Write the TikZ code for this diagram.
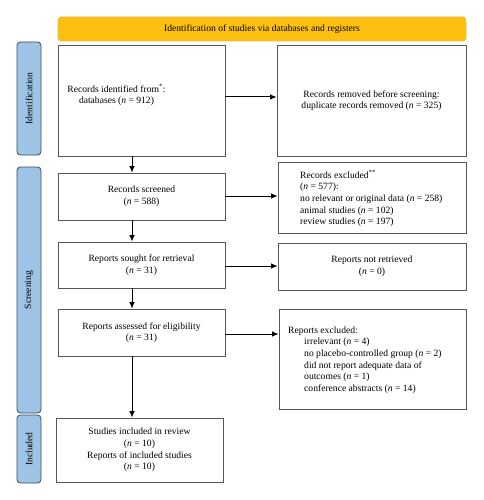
\documentclass[tikz,border=0pt]{standalone}
\usepackage{fontspec}
\setmainfont{Liberation Serif}
\usetikzlibrary{arrows.meta}
\definecolor{bandfill}{HTML}{FDC010}
\definecolor{bandline}{HTML}{E8B84A}
\definecolor{sidefill}{HTML}{9DC3E6}
\definecolor{sideline}{HTML}{3E4A5A}
\definecolor{boxline}{HTML}{555555}
\begin{document}
\begin{tikzpicture}[x=1pt,y=-1pt,font=\fontsize{9.6}{11.7}\selectfont,
  box/.style={draw=boxline,line width=0.8pt,rectangle,inner sep=0pt,align=center},
  side/.style={draw=sideline,fill=sidefill,rounded corners=3.5pt,line width=0.8pt,inner sep=0pt,minimum width=24pt},
  sidetext/.style={rotate=90},
  band/.style={draw=bandline,fill=bandfill,rounded corners=3pt,line width=0.6pt,inner sep=0pt},
  arr/.style={-{Latex[length=6.5pt,width=5.5pt]},line width=1pt}]
\useasboundingbox (0,0) rectangle (483,500);
% banner
\node[band,minimum width=408pt,minimum height=24pt] (band) at (262,29) {Identification of studies via databases and registers};
% side bars
\node[side,minimum height=113pt] (s1) at (29,98.5) {};
\node[sidetext] (s1t) at (s1.center) {Identification};
\node[side,minimum height=246pt] (s2) at (29,290) {};
\node[sidetext] (s2t) at (s2.center) {Screening};
\node[side,minimum height=68pt] (s3) at (29,449) {};
\node[sidetext] (s3t) at (s3.center) {Included};
% left boxes
\node[box,minimum width=167pt,minimum height=111pt] (b1) at (141.5,100.5) {};
\node[align=center,inner sep=0pt] (b1t) at (116.5,95) {Records identified from\textsuperscript{*}:\\databases (\textit{n} = 912)};
\node[box,minimum width=167pt,minimum height=47pt] (b2) at (141.5,196.5) {Records screened\\(\textit{n} = 588)};
\node[box,minimum width=167pt,minimum height=46pt] (b3) at (141.5,265) {Reports sought for retrieval\\(\textit{n} = 31)};
\node[box,minimum width=167pt,minimum height=47pt] (b4) at (141.5,332.5) {Reports assessed for eligibility\\(\textit{n} = 31)};
\node[box,minimum width=167pt,minimum height=64pt] (b5) at (139.5,450) {Studies included in review\\(\textit{n} = 10)\\Reports of included studies\\(\textit{n} = 10)};
% right boxes
\node[box,minimum width=189pt,minimum height=111pt] (r1) at (371.5,100.5) {Records removed before screening:\\duplicate records removed (\textit{n} = 325)};
\node[box,minimum width=188pt,minimum height=71pt] (r2) at (372,197.5) {};
\node[align=left,anchor=west,inner sep=0pt] (r2t) at (300,198.5) {Records excluded\textsuperscript{**}\\(\textit{n} = 577):\\no relevant or original data (\textit{n} = 258)\\animal studies (\textit{n} = 102)\\review studies (\textit{n} = 197)};
\node[box,minimum width=188pt,minimum height=47pt] (r3) at (372,266.5) {Reports not retrieved\\(\textit{n} = 0)};
\node[box,minimum width=187pt,minimum height=100pt] (r4) at (372.5,359) {};
\node[align=left,anchor=west,inner sep=0pt] (r4t) at (288,360) {Reports excluded:\\\hspace*{16pt}irrelevant (\textit{n} = 4)\\\hspace*{16pt}no placebo-controlled group (\textit{n} = 2)\\\hspace*{16pt}did not report adequate data of\\\hspace*{16pt}outcomes (\textit{n} = 1)\\\hspace*{16pt}conference abstracts (\textit{n} = 14)};
% arrows
\coordinate (ax) at (132,0);
\draw[arr] (b1.south -| ax) -- (b2.north -| ax);
\draw[arr] (b2.south -| ax) -- (b3.north -| ax);
\draw[arr] (b3.south -| ax) -- (b4.north -| ax);
\draw[arr] (b4.south -| ax) -- (b5.north -| ax);
\coordinate (y1) at (0,97);
\coordinate (y2) at (0,196);
\coordinate (y3) at (0,266);
\coordinate (y4) at (0,334);
\draw[arr] (b1.east |- y1) -- (r1.west |- y1);
\draw[arr] (b2.east |- y2) -- (r2.west |- y2);
\draw[arr] (b3.east |- y3) -- (r3.west |- y3);
\draw[arr] (b4.east |- y4) -- (r4.west |- y4);
\end{tikzpicture}
\end{document}
